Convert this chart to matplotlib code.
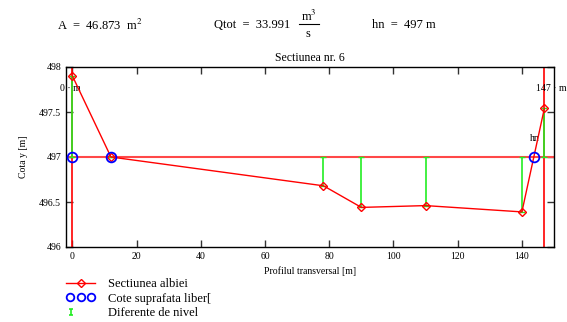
import matplotlib
matplotlib.use("Agg")
import matplotlib.pyplot as plt
from matplotlib.lines import Line2D
from matplotlib.path import Path
from matplotlib.legend_handler import HandlerLine2D

plt.rcParams["font.family"] = ["Liberation Serif", "DejaVu Serif"]
plt.rcParams["mathtext.fontset"] = "stix"

# bed profile (Sectiunea albiei)
bed_x = [0, 12, 78.2, 90, 110, 140, 147]
bed_y = [497.9, 497.0, 496.68, 496.44, 496.46, 496.39, 497.54]

# free surface points (Cote suprafata libera)
surf_x = [0, 12, 143.8]
surf_y = [497.0, 497.0, 497.0]

hn = 497.0
x_left = 0
x_right = 147

W, H = 567, 322


def fx(px):
    return px / W


def fy(py):
    return 1 - py / H


# little "I" glyph used for the level differences in the legend
i_mark = Path([(-0.6, -1), (0.6, -1), (0, -1), (0, 1), (-0.6, 1), (0.6, 1)],
              [Path.MOVETO, Path.LINETO, Path.MOVETO, Path.LINETO, Path.MOVETO, Path.LINETO])


class HandlerLeftMark:
    def legend_artist(self, legend, orig_handle, fontsize, handlebox):
        x0, y0 = handlebox.xdescent, handlebox.ydescent
        w, h = handlebox.width, handlebox.height
        ln = Line2D([x0 + 0.17 * w], [y0 + h / 2], ls="none", marker=i_mark,
                    ms=5, mec="#22ee22", mew=1.2)
        ln.set_transform(handlebox.get_transform())
        handlebox.add_artist(ln)
        return ln


fig = plt.figure(figsize=(5.67, 3.22), dpi=100)
ax = fig.add_axes([fx(66), fy(247), 488 / W, 180 / H])

# water level and section borders
ax.axhline(hn, color="#ff4848", lw=1.5, zorder=2)
ax.axvline(x_left, color="red", lw=1.2, zorder=2)
ax.axvline(x_right, color="red", lw=1.2, zorder=2)

# level differences
mid = [(hn + b) / 2 for b in bed_y]
err = [abs(hn - b) / 2 for b in bed_y]
ax.errorbar(bed_x, mid, yerr=err, fmt="none", ecolor="#22ee22",
            elinewidth=1.2, capsize=2.5, capthick=1, zorder=3)

ax.plot(bed_x, bed_y, color="red", lw=1, marker="D", ms=4,
        mfc="none", mec="red", mew=1, zorder=4)
ax.plot(surf_x, surf_y, ls="none", marker="o", ms=7, mfc="none",
        mec="blue", mew=1.3, zorder=5)

ax.text(x_left - 0.5, 497.76, "0 \u00b7 m", fontsize=7, ha="center", va="center")
ax.text(x_right + 2.2, 497.76, "147 \u00b7 m", fontsize=7, ha="center", va="center",
        clip_on=False)
ax.text(144, 497.21, "hn", fontsize=7, ha="center", va="center")

ax.set_xlim(-2, 150)
ax.set_ylim(496, 498)
ax.set_xticks([0, 20, 40, 60, 80, 100, 120, 140])
ax.set_yticks([496, 496.5, 497, 497.5, 498])
ax.set_yticklabels(["496", "496.5", "497", "497.5", "498"])
ax.tick_params(direction="in", top=True, right=True, length=5, labelsize=7,
               width=1, color="#333333")
ax.set_xlabel("Profilul transversal [m]", fontsize=7, labelpad=4)
ax.set_ylabel("Cota y [m]", fontsize=7, labelpad=8)
ax.set_title("Sectiunea nr. 6", fontsize=8.5, pad=4)
for s in ax.spines.values():
    s.set_linewidth(1)

# header
fig.text(fx(57), fy(25), "A  =  46.873  m$^2$", fontsize=9, va="center")
fig.text(fx(214), fy(25), "Qtot  =  33.991", fontsize=9, va="center")
fig.text(fx(309), fy(16), "m$^3$", fontsize=9, ha="center", va="center")
fig.add_artist(Line2D([fx(299), fx(319)], [fy(23.5), fy(23.5)], color="black", lw=0.8))
fig.text(fx(308), fy(34), "s", fontsize=9, ha="center", va="center")
fig.text(fx(372), fy(25), "hn  =  497 m", fontsize=9, va="center")

# legend
h_bed = Line2D([], [], color="red", lw=1, marker="D", ms=4, mfc="none", mec="red")
h_surf = Line2D([], [], ls="none", marker="o", ms=5.5, mfc="none", mec="blue", mew=1.3)
h_diff = Line2D([], [], ls="none")
fig.legend([h_bed, h_surf, h_diff],
           ["Sectiunea albiei", "Cote suprafata liber[", "Diferente de nivel"],
           handler_map={h_surf: HandlerLine2D(numpoints=3), h_diff: HandlerLeftMark()},
           loc="upper left", bbox_to_anchor=(fx(60), fy(272)),
           frameon=False, fontsize=9, handlelength=2.3, handletextpad=1.0,
           labelspacing=0.2, borderpad=0, numpoints=1)

fig.savefig("out.png", dpi=100)
